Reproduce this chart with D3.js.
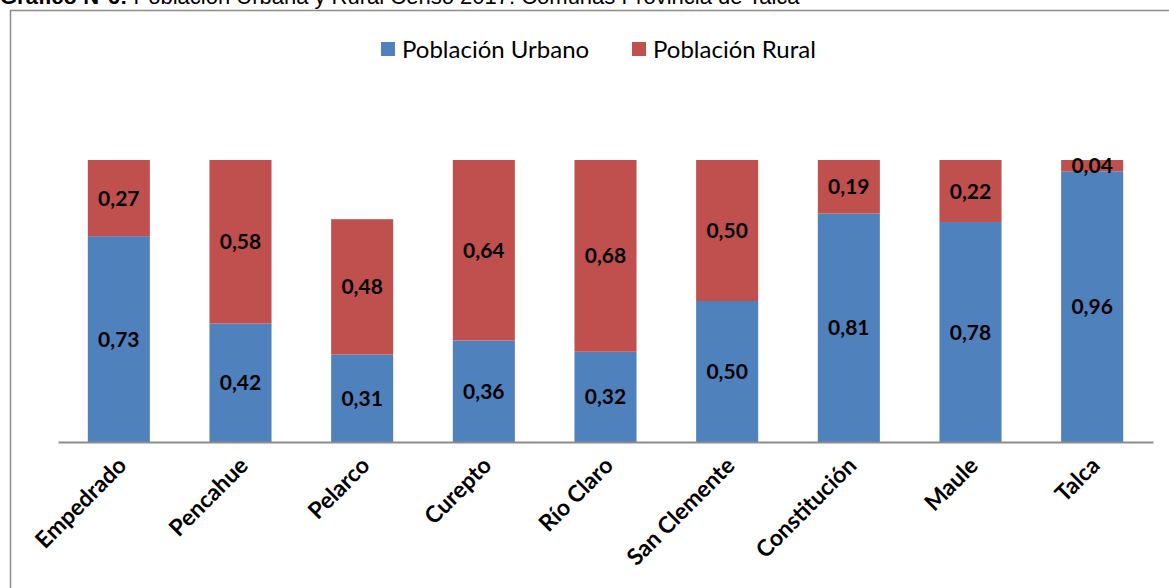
<!DOCTYPE html>
<html>
<head>
<meta charset="utf-8">
<script src="https://cdn.jsdelivr.net/npm/d3@7"></script>
<style>
  body { margin: 0; background: #fff; }
  svg { display: block; }
</style>
</head>
<body>
<div id="chart"></div>
<script>
var comunas = ["Empedrado", "Pencahue", "Pelarco", "Curepto", "Río Claro",
    "San Clemente", "Constitución", "Maule", "Talca"];
var urbano = [0.73, 0.42, 0.31, 0.36, 0.32, 0.50, 0.81, 0.78, 0.96];
var rural = [0.27, 0.58, 0.48, 0.64, 0.68, 0.50, 0.19, 0.22, 0.04];
var seriesNames = ["Población Urbano", "Población Rural"];
var seriesColors = ["#4f81bd", "#c0504d"];

var width = 1169, height = 588;
var labelFont = "Lato, Open Sans, sans-serif";

var svg = d3.select("#chart").append("svg")
    .attr("width", width)
    .attr("height", height);

// title, cut at the top like the source
var title = svg.append("text")
    .attr("x", 0)
    .attr("y", 4)
    .style("font-family", "Liberation Sans, Arial, sans-serif")
    .style("font-size", "22px")
    .attr("fill", "#000");
title.append("tspan").style("font-weight", "bold").text("Gráfico N°6:");
title.append("tspan").text(" Población Urbana y Rural Censo 2017. Comunas Provincia de Talca");

// frame
svg.append("rect")
    .attr("x", 10.5)
    .attr("y", 10.5)
    .attr("width", width)
    .attr("height", height)
    .attr("fill", "none")
    .attr("stroke", "#8c8c8c")
    .attr("stroke-width", 1.5);

var xScale = d3.scaleBand()
    .domain(comunas)
    .range([58, 1153])
    .paddingInner(0.49)
    .paddingOuter(0.245);

var yScale = d3.scaleLinear()
    .domain([0, 1])
    .range([442, 160]);

var stackData = comunas.map(function (c, i) {
    return {comuna: c, urbano: urbano[i], rural: rural[i]};
});
var stack = d3.stack().keys(["urbano", "rural"]);
var layers = stack(stackData);

var groups = svg.selectAll(".layer")
    .data(layers)
    .enter().append("g")
    .attr("class", "layer")
    .attr("fill", function (d, i) { return seriesColors[i]; });

groups.selectAll("rect")
    .data(function (d) { return d; })
    .enter().append("rect")
    .attr("x", function (d) { return xScale(d.data.comuna); })
    .attr("width", xScale.bandwidth())
    .attr("y", function (d) { return yScale(d[1]); })
    .attr("height", function (d) { return yScale(d[0]) - yScale(d[1]); });

// value labels
var fmt = function (v) { return v.toFixed(2).replace(".", ","); };
groups.selectAll(".val")
    .data(function (d) { return d; })
    .enter().append("text")
    .attr("class", "val")
    .attr("x", function (d) { return xScale(d.data.comuna) + xScale.bandwidth() / 2; })
    .attr("y", function (d) { return (yScale(d[0]) + yScale(d[1])) / 2; })
    .attr("dy", "0.36em")
    .attr("text-anchor", "middle")
    .attr("fill", "#000")
    .style("font-family", labelFont)
    .style("font-weight", "bold")
    .style("font-size", "21px")
    .text(function (d) { return fmt(d[1] - d[0]); });

// x axis line
var xAxis = d3.axisBottom(xScale).tickSize(0).tickPadding(0);
var axisG = svg.append("g")
    .attr("transform", "translate(0,442)")
    .call(xAxis);
axisG.select(".domain").attr("stroke", "#8c8c8c").attr("stroke-width", 2);
axisG.selectAll("text")
    .attr("fill", "#000")
    .style("font-family", labelFont)
    .style("font-weight", "bold")
    .style("font-size", "23px")
    .style("text-anchor", "end")
    .attr("x", 0)
    .attr("y", 0)
    .attr("dy", 0)
    .attr("transform", "translate(9,25) rotate(-45)");

// legend
var legendX = [381, 632];
var legend = svg.selectAll(".legend")
    .data(seriesNames)
    .enter().append("g")
    .attr("class", "legend")
    .attr("transform", function (d, i) { return "translate(" + legendX[i] + ",42)"; });
legend.append("rect")
    .attr("width", 14)
    .attr("height", 14)
    .attr("fill", function (d, i) { return seriesColors[i]; });
legend.append("text")
    .attr("x", 21)
    .attr("y", 7)
    .attr("dy", "0.36em")
    .style("font-family", labelFont)
    .style("font-size", "24px")
    .attr("fill", "#000")
    .text(function (d) { return d; });
</script>
</body>
</html>
